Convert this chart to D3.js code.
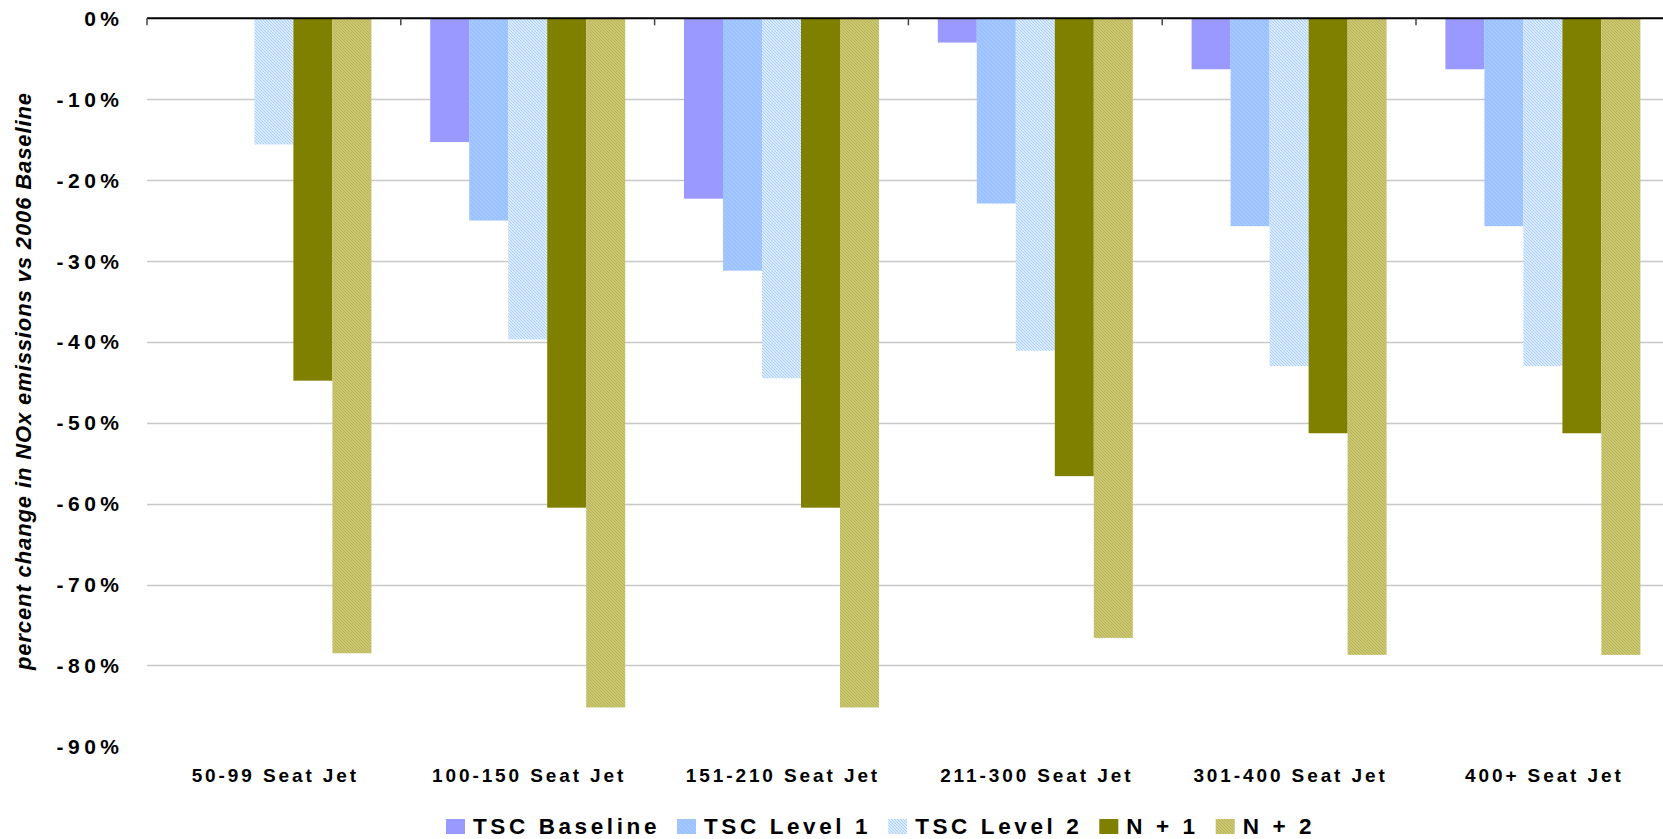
<!DOCTYPE html>
<html>
<head>
<meta charset="utf-8">
<script src="https://cdn.jsdelivr.net/npm/d3@7"></script>
<style>
  html, body { margin: 0; padding: 0; background: #fff; }
  svg { display: block; }
  text { font-family: "Liberation Sans", Arial, sans-serif; fill: #000; }
</style>
</head>
<body>
<svg id="chart" width="1663" height="839"></svg>
<script>
// Aircraft size classes
const categories = ["50-99 Seat Jet", "100-150 Seat Jet", "151-210 Seat Jet",
                    "211-300 Seat Jet", "301-400 Seat Jet", "400+ Seat Jet"];
const seriesNames = ["TSC Baseline", "TSC Level 1", "TSC Level 2", "N + 1", "N + 2"];

// Percent change in NOx emissions vs 2006 baseline (null = no bar)
const tscBaseline = [null, -15.3, -22.3, -3.0, -6.3, -6.3];
const tscLevel1   = [null, -25.0, -31.2, -22.9, -25.7, -25.7];
const tscLevel2   = [-15.6, -39.7, -44.5, -41.1, -43.0, -43.0];
const nPlus1      = [-44.8, -60.5, -60.5, -56.6, -51.3, -51.3];
const nPlus2      = [-78.5, -85.2, -85.2, -76.6, -78.7, -78.7];

const yTicks = [0, -10, -20, -30, -40, -50, -60, -70, -80, -90];
const yTitle = "percent change in NOx emissions vs 2006 Baseline";

const seriesValues = [tscBaseline, tscLevel1, tscLevel2, nPlus1, nPlus2];
const seriesFills = ["#9999ff", "url(#pat-l1)", "url(#pat-l2)", "#808000", "url(#pat-n2)"];

const svg = d3.select("#chart");
const W = 1663;

// Fill patterns
const defs = svg.append("defs");
function hatch(id, size, bg, line, lw) {
  const p = defs.append("pattern").attr("id", id)
    .attr("patternUnits", "userSpaceOnUse").attr("width", size).attr("height", size);
  p.append("rect").attr("width", size).attr("height", size).attr("fill", bg);
  p.append("path")
    .attr("d", `M0,0L${size},${size}M${-size},0L${size},${2*size}M0,${-size}L${2*size},${size}`)
    .attr("stroke", line).attr("stroke-width", lw);
}
hatch("pat-l1", 4, "#9cc2ff", "#a9cbff", 1);
hatch("pat-l2", 3, "#eef5ff", "#a8cffc", 1.1);
hatch("pat-n2", 3, "#cbc76f", "#b6b25b", 0.9);

// Scales
const plotLeft = 147, step = 253.8;
const x = d3.scaleBand().domain(categories)
  .range([plotLeft, plotLeft + step * categories.length]).padding(0);
const xs = d3.scaleBand().domain(seriesNames)
  .range([0, x.bandwidth()]).paddingInner(0).paddingOuter(0.754);
const y = d3.scaleLinear().domain([-90, 0]).range([746.3, 18.3]);

// Gridlines
svg.append("g").selectAll("line")
  .data(yTicks.filter(d => d < 0 && d > -90))
  .join("line")
  .attr("x1", plotLeft).attr("x2", W)
  .attr("y1", d => Math.round(y(d)) + 0.5).attr("y2", d => Math.round(y(d)) + 0.5)
  .attr("stroke", "#c8c8c8").attr("stroke-width", 1.3);

// Bars
const barData = [];
categories.forEach((c, i) => {
  seriesNames.forEach((s, j) => {
    const v = seriesValues[j][i];
    if (v !== null) barData.push({ c, s, v, fill: seriesFills[j] });
  });
});
svg.append("g").selectAll("rect")
  .data(barData)
  .join("rect")
  .attr("x", d => x(d.c) + xs(d.s))
  .attr("width", xs.bandwidth())
  .attr("y", y(0))
  .attr("height", d => y(d.v) - y(0))
  .attr("fill", d => d.fill);

// Zero axis line with category ticks
const xAxis = d3.axisBottom(x).tickSize(0).tickFormat("");
const axisG = svg.append("g").attr("transform", `translate(0,${y(0)})`);
axisG.call(xAxis);
axisG.select(".domain").remove();
axisG.append("line").attr("x1", plotLeft).attr("x2", W)
  .attr("y1", 0).attr("y2", 0).attr("stroke", "#000").attr("stroke-width", 2);
axisG.selectAll(".boundary")
  .data(d3.range(categories.length + 1).map(i => plotLeft + i * step))
  .join("line").attr("class", "boundary")
  .attr("x1", d => d).attr("x2", d => d).attr("y1", 0).attr("y2", 7)
  .attr("stroke", "#444").attr("stroke-width", 1.5);

// Category labels
const xls = 2.9;
svg.append("g").selectAll("text")
  .data(categories)
  .join("text")
  .attr("x", d => x(d) + x.bandwidth() / 2 + xls / 2)
  .attr("y", 782)
  .attr("text-anchor", "middle")
  .style("font-size", "19px").style("font-weight", "bold")
  .style("letter-spacing", xls + "px")
  .text(d => d);

// Y tick labels
const yls = 4.5;
svg.append("g").selectAll("text")
  .data(yTicks)
  .join("text")
  .attr("x", 119 + yls)
  .attr("y", d => y(d))
  .attr("dy", "0.36em")
  .attr("text-anchor", "end")
  .style("font-size", "21px").style("font-weight", "bold")
  .style("letter-spacing", yls + "px")
  .text(d => d + "%");

// Y axis title
svg.append("text")
  .attr("transform", "translate(31,381.5) rotate(-90)")
  .attr("text-anchor", "middle")
  .attr("textLength", 577)
  .style("font-size", "22px").style("font-weight", "bold").style("font-style", "italic")
  .text(yTitle);

// Legend
const legend = svg.append("g");
let lx = 446;
seriesNames.forEach((s, j) => {
  legend.append("rect").attr("x", lx).attr("y", 819).attr("width", 19).attr("height", 15)
    .attr("fill", seriesFills[j]);
  const t = legend.append("text").attr("x", lx + 27).attr("y", 834.3)
    .style("font-size", "22.5px").style("font-weight", "bold")
    .style("letter-spacing", "3.6px")
    .text(s);
  lx += 27 + t.node().getComputedTextLength() + 17;
});
</script>
</body>
</html>
